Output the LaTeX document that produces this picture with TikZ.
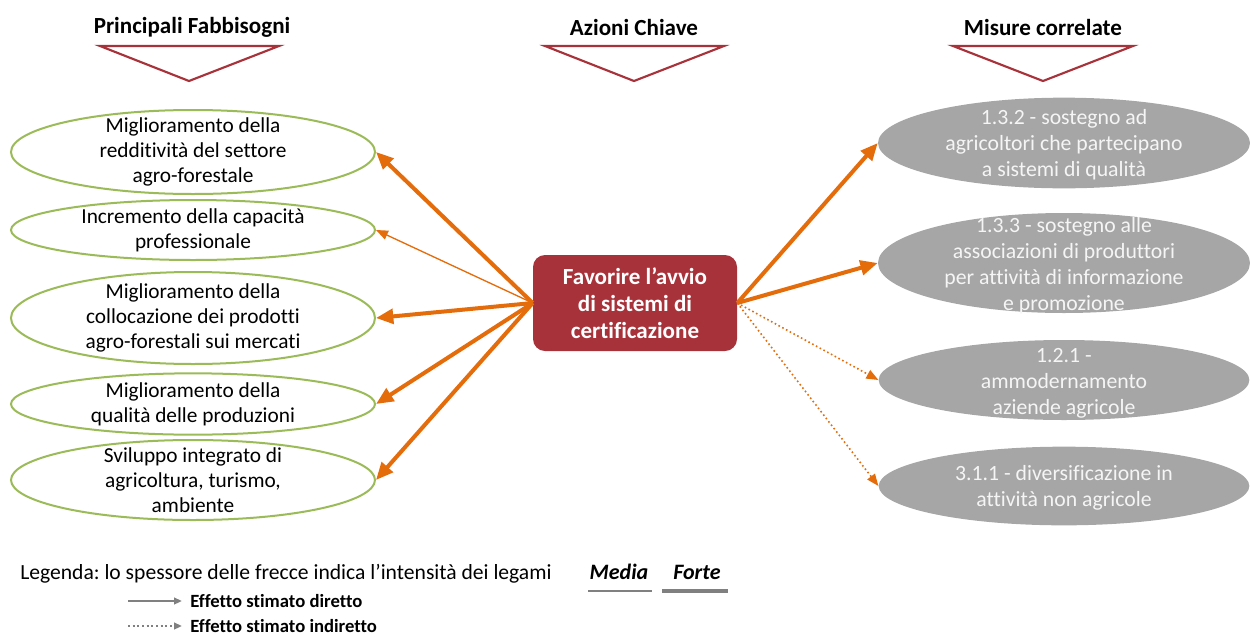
\documentclass[tikz,border=0pt]{standalone}
\usepackage{fontspec}
\setmainfont[Ligatures={NoCommon}]{Carlito}
\usetikzlibrary{arrows.meta,shapes.geometric}
\definecolor{dred}{RGB}{168,50,58}
\definecolor{lgreen}{RGB}{155,187,89}
\definecolor{org}{RGB}{228,108,10}
\definecolor{mgray}{RGB}{166,166,166}
\definecolor{lgtext}{RGB}{245,245,245}
\definecolor{leggray}{RGB}{128,128,128}
\frenchspacing
\begin{document}
\begin{tikzpicture}[x=0.75pt,y=-0.75pt,
  hdr/.style={font=\fontsize{17.3}{20}\selectfont\bfseries},
  tri/.style={draw=dred,line width=1.6pt,line join=miter},
  need/.style={ellipse,draw=lgreen,line width=1.5pt,inner sep=0pt},
  needtxt/.style={align=center,font=\fontsize{16}{18.75}\selectfont,inner sep=0pt},
  meas/.style={ellipse,fill=mgray,draw=none,inner sep=0pt},
  meastxt/.style={align=center,text=lgtext,font=\fontsize{16.3}{19.6}\selectfont,inner sep=0pt},
  strong/.style={draw=org,line width=3pt,-{Triangle[length=13pt,width=11pt]}},
  weak/.style={draw=org,line width=1pt,-{Triangle[length=9pt,width=7pt]}},
  indir/.style={draw=org,line width=1.2pt,dotted,-{Triangle[length=9pt,width=7pt]}},
  legtxt/.style={anchor=west,inner sep=0pt,font=\fontsize{14}{16}\selectfont\bfseries},
]
\useasboundingbox (0,0) rectangle (1250,636);
% headers
\node[hdr] (h1) at (192,27) {Principali Fabbisogni};
\node[hdr] (h2) at (634,27) {Azioni Chiave};
\node[hdr] (h3) at (1043,27) {Misure correlate};
\draw[tri] (100,46) -- (279,46) -- (189,81) -- cycle;
\draw[tri] (545,46) -- (724,46) -- (634,81) -- cycle;
\draw[tri] (953,46) -- (1133,46) -- (1043,81) -- cycle;
% left ellipses
\node[need,minimum width=273pt,minimum height=63pt] (l1) at (193,152) {};
\node[needtxt] (l1t) at (193,152) {Miglioramento della\\redditività del settore\\agro-forestale};
\node[need,minimum width=273pt,minimum height=45pt] (l2) at (193,230) {};
\node[needtxt] (l2t) at (193,230) {Incremento della capacità\\professionale};
\node[need,minimum width=273pt,minimum height=69pt] (l3) at (193,318) {};
\node[needtxt] (l3t) at (193,318) {Miglioramento della\\collocazione dei prodotti\\agro-forestali sui mercati};
\node[need,minimum width=273pt,minimum height=46pt] (l4) at (193,404) {};
\node[needtxt] (l4t) at (193,404) {Miglioramento della\\qualità delle produzioni};
\node[need,minimum width=273pt,minimum height=60pt] (l5) at (193,480) {};
\node[needtxt] (l5t) at (193,480) {Sviluppo integrato di\\agricoltura, turismo,\\ambiente};
% center
\node[fill=dred,rounded corners=9pt,minimum width=153pt,minimum height=72pt,inner sep=0pt,
  align=center,text=white,font=\fontsize{17.3}{20.3}\selectfont\bfseries] (c) at (635,303)
  {Favorire l’avvio\\di sistemi di\\certificazione};
% right ellipses
\node[meas,minimum width=279pt,minimum height=68pt] (r1) at (1064,143) {};
\node[meastxt] (r1t) at (1064,145) {1.3.2 - sostegno ad\\agricoltori che partecipano\\a sistemi di qualità};
\node[meas,minimum width=279pt,minimum height=75pt] (r2) at (1064,263) {};
\node[meastxt] (r2t) at (1064,266) {1.3.3 - sostegno alle\\associazioni di produttori\\per attività di informazione\\e promozione};
\node[meas,minimum width=278pt,minimum height=60pt] (r3) at (1064,380) {};
\node[meastxt] (r3t) at (1064,383) {1.2.1 -\\ammodernamento\\aziende agricole};
\node[meas,minimum width=278pt,minimum height=59pt] (r4) at (1064,486) {};
\node[meastxt] (r4t) at (1064,488) {3.1.1 - diversificazione in\\attività non agricole};
% arrows
\coordinate (cl) at (c.west);
\coordinate (cr) at (c.east);
\draw[strong] (cl) -- (l1.east);
\draw[weak] (cl) -- (l2.east);
\draw[strong] (cl) -- (l3.east);
\draw[strong] (cl) -- (l4.east);
\draw[strong] (cl) -- (l5.east);
\draw[strong] (cr) -- (r1.west);
\draw[strong] (cr) -- (r2.west);
\draw[indir] (cr) -- (r3.west);
\draw[indir] (cr) -- (r4.west);
% legend
\node[anchor=west,inner sep=0pt,font=\fontsize{16.2}{18}\selectfont] (lg) at (20,574) {Legenda: lo spessore delle frecce indica l’intensità dei legami};
\node[inner sep=0pt,font=\fontsize{16.5}{18}\selectfont\bfseries\itshape] (md) at (619,572) {Media};
\node[inner sep=0pt,font=\fontsize{16.5}{18}\selectfont\bfseries\itshape] (ft) at (697,572) {Forte};
\coordinate (m1) at (588,591); \coordinate (m2) at (652,591);
\coordinate (f1) at (662,591); \coordinate (f2) at (728,591);
\draw[leggray,line width=1.5pt] (m1) -- (m2);
\draw[leggray,line width=3pt] (f1) -- (f2);
\node[legtxt] (e1) at (190,601) {Effetto stimato diretto};
\node[legtxt] (e2) at (190,626) {Effetto stimato indiretto};
\coordinate (a1) at (128,601);
\coordinate (a2) at (128,626);
\draw[leggray,line width=1.5pt,-{Triangle[length=6pt,width=5pt]}] (a1) -- ([xshift=-6pt]e1.west);
\draw[leggray,line width=1.5pt,dotted,-{Triangle[length=6pt,width=5pt]}] (a2) -- ([xshift=-6pt]e2.west);
\end{tikzpicture}
\end{document}
